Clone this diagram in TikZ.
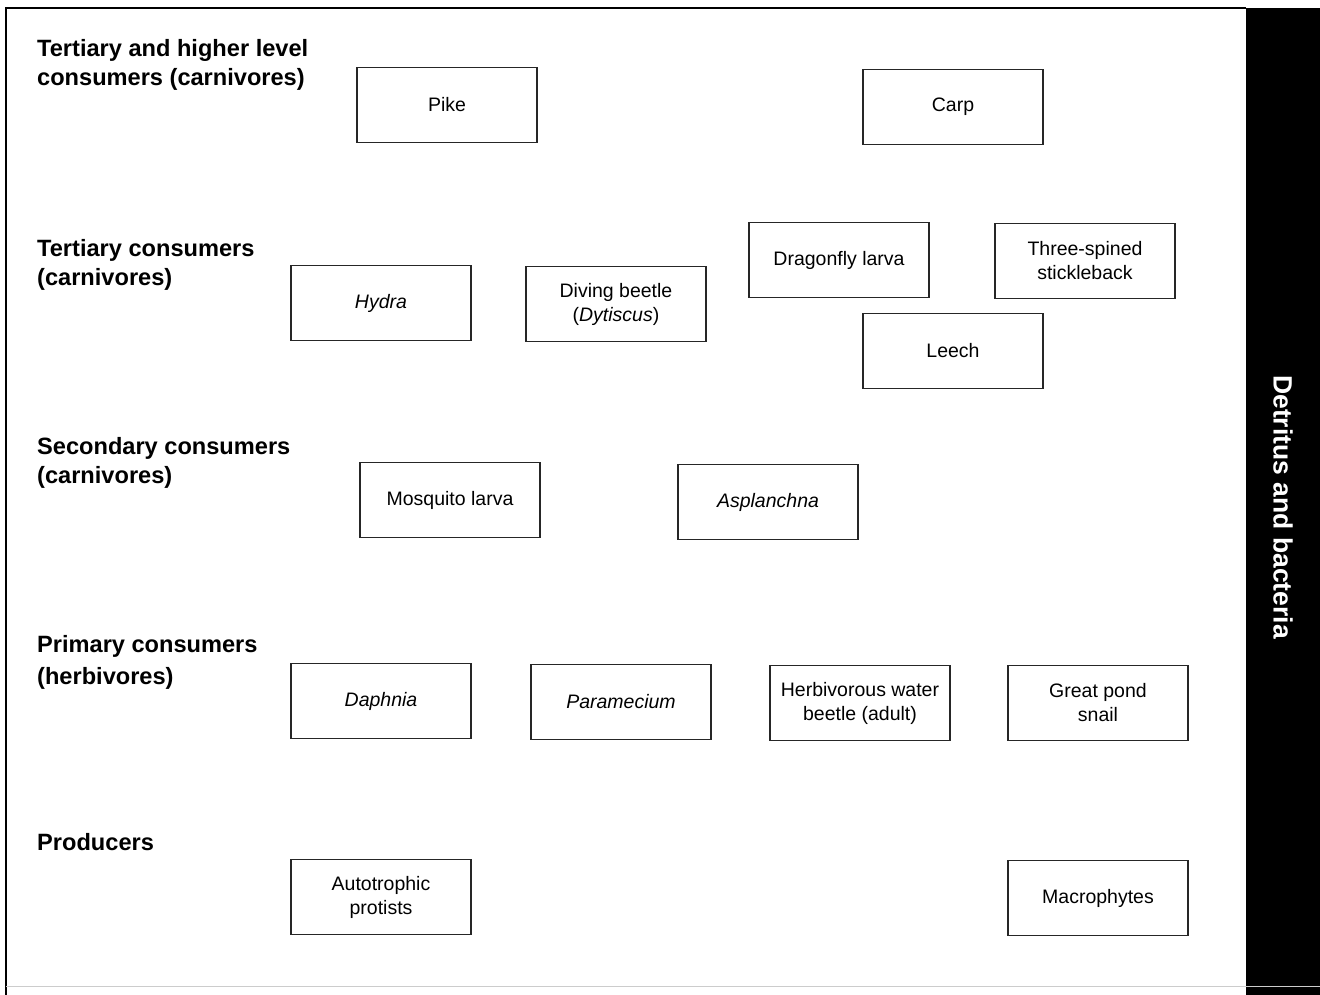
\documentclass[tikz,border=0pt]{standalone}
\usepackage{fontspec}
\setmainfont{Liberation Sans}

\begin{document}
\begin{tikzpicture}[x=1pt,y=-1pt,
  organism/.style={draw=black!85, line width=1.2pt, minimum width=180pt, minimum height=75pt,
    inner sep=0pt, align=center, font=\fontsize{19.5}{24}\selectfont},
  level/.style={anchor=north west, inner sep=0pt, align=left,
    font=\fontsize{23.6}{29}\selectfont\bfseries}]
\useasboundingbox (0,0) rectangle (1320,995);

  %frame
  \coordinate (FA) at (6,8);
  \coordinate (FB) at (1246,8);
  \coordinate (FC) at (6,995);
  \coordinate (FD) at (1320,995);
  \coordinate (FE) at (6,986);
  \coordinate (FF) at (1320,986);
  \fill[black] (FB) rectangle (FD);
  \draw[line width=2pt] (FC) -- (FA) -- (FB);
  \draw[black!20, line width=0.8pt] (FE) -- (FF);
  \node[rotate=-90, text=white, font=\fontsize{26.5}{30}\selectfont\bfseries] (detritus) at (1283,507) {Detritus and bacteria};

  %levels
  \node[level] (lvlA) at (37,39) {Tertiary and higher level\\consumers (carnivores)};
  \node[level] (lvlB) at (37,239) {Tertiary consumers\\(carnivores)};
  \node[level] (lvlC) at (37,437) {Secondary consumers\\(carnivores)};
  \node[level] (lvlD) at (37,635) {Primary consumers\\[3pt](herbivores)};
  \node[level] (lvlE) at (37,833) {Producers};

  %tertiary and higher
  \coordinate (PK) at (447,105);
  \coordinate (CP) at (953,107);
  \node[organism] (pike) at (PK) {Pike};
  \node[organism] (carp) at (CP) {Carp};

  %tertiary
  \coordinate (DL) at (839,260);
  \coordinate (TS) at (1085,261);
  \coordinate (HY) at (381,303);
  \coordinate (DB) at (616,304);
  \coordinate (LE) at (953,351);
  \node[organism] (dragonfly) at (DL) {Dragonfly larva};
  \node[organism] (stickleback) at (TS) {Three-spined\\stickleback};
  \node[organism] (hydra) at (HY) {\itshape Hydra};
  \node[organism] (diving) at (DB) {Diving beetle\\(\textit{Dytiscus})};
  \node[organism] (leech) at (LE) {Leech};

  %secondary
  \coordinate (ML) at (450,500);
  \coordinate (AS) at (768,502);
  \node[organism] (mosquito) at (ML) {Mosquito larva};
  \node[organism] (asplanchna) at (AS) {\itshape Asplanchna};

  %primary
  \coordinate (DA) at (381,701);
  \coordinate (PA) at (621,702);
  \coordinate (HB) at (860,703);
  \coordinate (GS) at (1098,703);
  \node[organism] (daphnia) at (DA) {\itshape Daphnia};
  \node[organism] (paramecium) at (PA) {\itshape Paramecium};
  \node[organism] (herbivorous) at (HB) {Herbivorous water\\beetle (adult)};
  \node[organism] (snail) at (GS) {Great pond\\snail};

  %producers
  \coordinate (AP) at (381,897);
  \coordinate (MP) at (1098,898);
  \node[organism] (autotrophic) at (AP) {Autotrophic\\protists};
  \node[organism] (macrophytes) at (MP) {Macrophytes};
\end{tikzpicture}
\end{document}
